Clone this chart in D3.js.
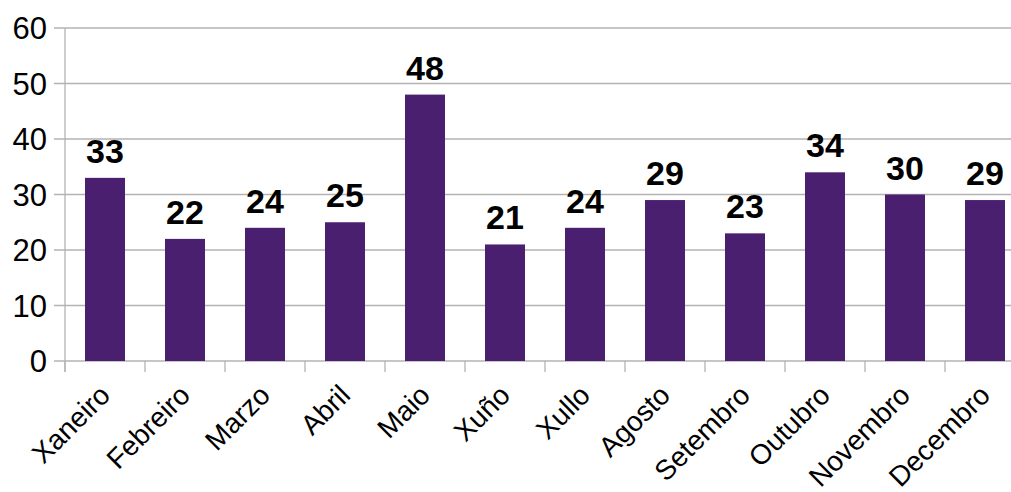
<!DOCTYPE html>
<html>
<head>
<meta charset="utf-8">
<script src="https://cdn.jsdelivr.net/npm/d3@7"></script>
<style>
  body { margin: 0; background: #fff; }
  svg { display: block; font-family: "Liberation Sans", Arial, sans-serif; }
</style>
</head>
<body>
<div id="chart"></div>
<script>
var months = ["Xaneiro", "Febreiro", "Marzo", "Abril", "Maio", "Xuño", "Xullo",
	"Agosto", "Setembro", "Outubro", "Novembro", "Decembro"];
var values = [33, 22, 24, 25, 48, 21, 24, 29, 23, 34, 30, 29];
var yTicks = [0, 10, 20, 30, 40, 50, 60];

var width = 1011,
	height = 492;

var plotLeft = 65,
	plotTop = 28,
	plotBottom = 361,
	step = 80;

var barColor = "#4b1f6f",
	gridColor = "#b3b3b3";

var svg = d3.select("#chart").append("svg")
	.attr("width", width)
	.attr("height", height);

var x = d3.scaleBand()
	.domain(months)
	.range([plotLeft, plotLeft + step * months.length])
	.paddingInner(0.5)
	.paddingOuter(0.25);

var y = d3.scaleLinear()
	.domain([0, 60])
	.range([plotBottom, plotTop]);

// horizontal grid + y tick marks
svg.append("g").selectAll("line").data(yTicks).enter()
	.append("line")
	.attr("x1", plotLeft - 11)
	.attr("x2", width)
	.attr("y1", function(d) { return y(d); })
	.attr("y2", function(d) { return y(d); })
	.attr("stroke", gridColor)
	.attr("stroke-width", 1.3);

svg.append("g").selectAll("text").data(yTicks).enter()
	.append("text")
	.attr("x", plotLeft - 18)
	.attr("y", function(d) { return y(d); })
	.attr("dy", "0.36em")
	.attr("text-anchor", "end")
	.attr("font-size", 31)
	.text(function(d) { return d; });

// vertical axis line
svg.append("line")
	.attr("x1", plotLeft).attr("x2", plotLeft)
	.attr("y1", y(60)).attr("y2", plotBottom + 11)
	.attr("stroke", gridColor)
	.attr("stroke-width", 1.3);

// x tick marks on band boundaries
var bounds = d3.range(months.length + 1).map(function(i) { return x.range()[0] + i * x.step(); });
svg.append("g").selectAll("line").data(bounds).enter()
	.append("line")
	.attr("x1", function(d) { return d; })
	.attr("x2", function(d) { return d; })
	.attr("y1", plotBottom)
	.attr("y2", plotBottom + 11)
	.attr("stroke", gridColor)
	.attr("stroke-width", 1.3);

// bars
svg.append("g").selectAll("rect").data(values).enter()
	.append("rect")
	.attr("x", function(d, i) { return x(months[i]); })
	.attr("width", x.bandwidth())
	.attr("y", function(d) { return y(d); })
	.attr("height", function(d) { return plotBottom - y(d); })
	.attr("fill", barColor);

// value labels
svg.append("g").selectAll("text").data(values).enter()
	.append("text")
	.attr("x", function(d, i) { return x(months[i]) + x.bandwidth() / 2; })
	.attr("y", function(d) { return y(d) - 15; })
	.attr("text-anchor", "middle")
	.attr("font-size", 34)
	.attr("font-weight", "bold")
	.text(function(d) { return d; });

// month labels
svg.append("g").selectAll("text").data(months).enter()
	.append("text")
	.attr("transform", function(d) {
		var cx = x(d) + x.bandwidth() / 2 - 7;
		return "translate(" + cx + "," + (plotBottom + 22) + ") rotate(-45)";
	})
	.attr("text-anchor", "end")
	.attr("dy", "0.7em")
	.attr("font-size", 28)
	.text(function(d) { return d; });
</script>
</body>
</html>
